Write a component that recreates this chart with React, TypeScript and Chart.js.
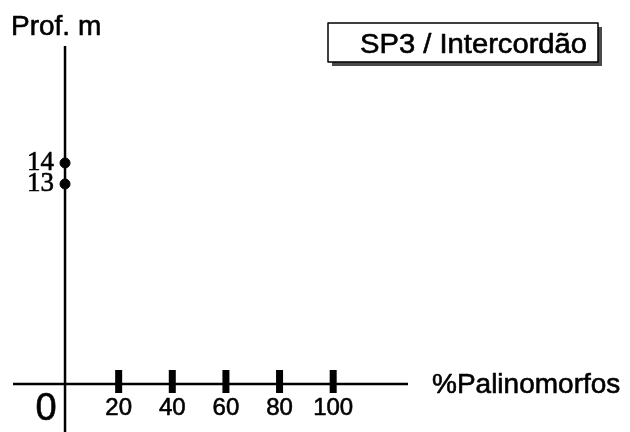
import { useEffect, useRef } from 'react';
import { Chart, registerables } from 'chart.js';

Chart.register(...registerables);

// Data
const depths = [14, 13];
const percents = [0, 0];
const xTickValues = [20, 40, 60, 80, 100];
const originLabel = '0';
const yTitle = 'Prof. m';
const xTitle = '%Palinomorfos';
const legendText = 'SP3 / Intercordão';

const SANS = '"Liberation Sans", Arial, sans-serif';
const SERIF = '"Liberation Serif", "Times New Roman", serif';

function heavyText(ctx: CanvasRenderingContext2D, text: string, x: number, y: number) {
  ctx.fillText(text, x, y);
  ctx.strokeText(text, x, y);
}

const decor = {
  id: 'decor',
  beforeDatasetsDraw(chart: any) {
    const { ctx, chartArea } = chart;
    const xs = chart.scales.x;
    const x0 = xs.getPixelForValue(0);
    ctx.save();
    ctx.strokeStyle = '#000';
    ctx.lineWidth = 2.5;
    // vertical axis
    ctx.beginPath();
    ctx.moveTo(x0, chartArea.top);
    ctx.lineTo(x0, chart.height);
    ctx.stroke();
    // horizontal axis
    ctx.beginPath();
    ctx.moveTo(chartArea.left, chartArea.bottom);
    ctx.lineTo(chartArea.right, chartArea.bottom);
    ctx.stroke();
    // tick bars
    ctx.fillStyle = '#000';
    xTickValues.forEach((v) => {
      const px = xs.getPixelForValue(v);
      ctx.fillRect(px - 3.5, chartArea.bottom - 14, 7, 23);
    });
    ctx.restore();
  },
  afterDraw(chart: any) {
    const { ctx, chartArea } = chart;
    const xs = chart.scales.x;
    const ys = chart.scales.y;
    const x0 = xs.getPixelForValue(0);
    ctx.save();
    ctx.fillStyle = '#000';
    ctx.strokeStyle = '#000';
    ctx.lineWidth = 0.6;
    ctx.lineJoin = 'round';
    // x tick labels
    ctx.font = `24px ${SANS}`;
    ctx.textAlign = 'center';
    ctx.textBaseline = 'alphabetic';
    xTickValues.forEach((v) => {
      heavyText(ctx, String(v), xs.getPixelForValue(v), chartArea.bottom + 31);
    });
    // origin label
    ctx.font = `38px ${SANS}`;
    ctx.textAlign = 'center';
    heavyText(ctx, originLabel, x0 - 19, chartArea.bottom + 36);
    // y tick labels
    ctx.font = `27px ${SERIF}`;
    ctx.textAlign = 'right';
    ctx.textBaseline = 'middle';
    depths.forEach((d) => {
      heavyText(ctx, String(d), x0 - 11, ys.getPixelForValue(d));
    });
    // titles
    ctx.textBaseline = 'alphabetic';
    ctx.textAlign = 'left';
    ctx.font = `28px ${SANS}`;
    heavyText(ctx, yTitle, 11, 35);
    heavyText(ctx, xTitle, 432, chartArea.bottom + 9);
    // legend box
    const bx = 328, by = 23, bw = 270, bh = 39;
    ctx.fillStyle = '#4a4a4a';
    ctx.fillRect(bx + 4, by + 4, bw, bh);
    ctx.fillStyle = '#fff';
    ctx.fillRect(bx, by, bw, bh);
    ctx.lineWidth = 1.5;
    ctx.strokeRect(bx, by, bw, bh);
    ctx.fillStyle = '#000';
    ctx.lineWidth = 0.6;
    ctx.font = `27px ${SANS}`;
    ctx.textAlign = 'right';
    ctx.save();
    ctx.translate(bx + bw - 11, by + 30);
    ctx.scale(1.08, 1);
    heavyText(ctx, legendText, 0, 0);
    ctx.restore();
    ctx.restore();
  },
};

export default function App() {
  const ref = useRef<HTMLCanvasElement | null>(null);
  useEffect(() => {
    if (!ref.current) return;
    const chart = new Chart(ref.current, {
      type: 'scatter',
      data: {
        datasets: [
          {
            data: depths.map((d, i) => ({ x: percents[i], y: d })),
            backgroundColor: '#000',
            borderColor: '#000',
            pointRadius: 5,
            pointHoverRadius: 5,
          },
        ],
      },
      options: {
        animation: false,
        responsive: false,
        maintainAspectRatio: false,
        layout: { padding: { left: 13, right: 222, top: 46, bottom: 48 } },
        plugins: { legend: { display: false }, tooltip: { enabled: false } },
        scales: {
          x: { type: 'linear', display: false, min: -19.4, max: 127.9 },
          y: { type: 'linear', display: false, min: 3.476, max: 19.57 },
        },
      },
      plugins: [decor],
    });
    return () => chart.destroy();
  }, []);
  return (
    <div style={{ position: 'fixed', left: 0, top: 0, width: 630, height: 432, background: '#fff' }}>
      <canvas ref={ref} width={630} height={432} />
    </div>
  );
}
